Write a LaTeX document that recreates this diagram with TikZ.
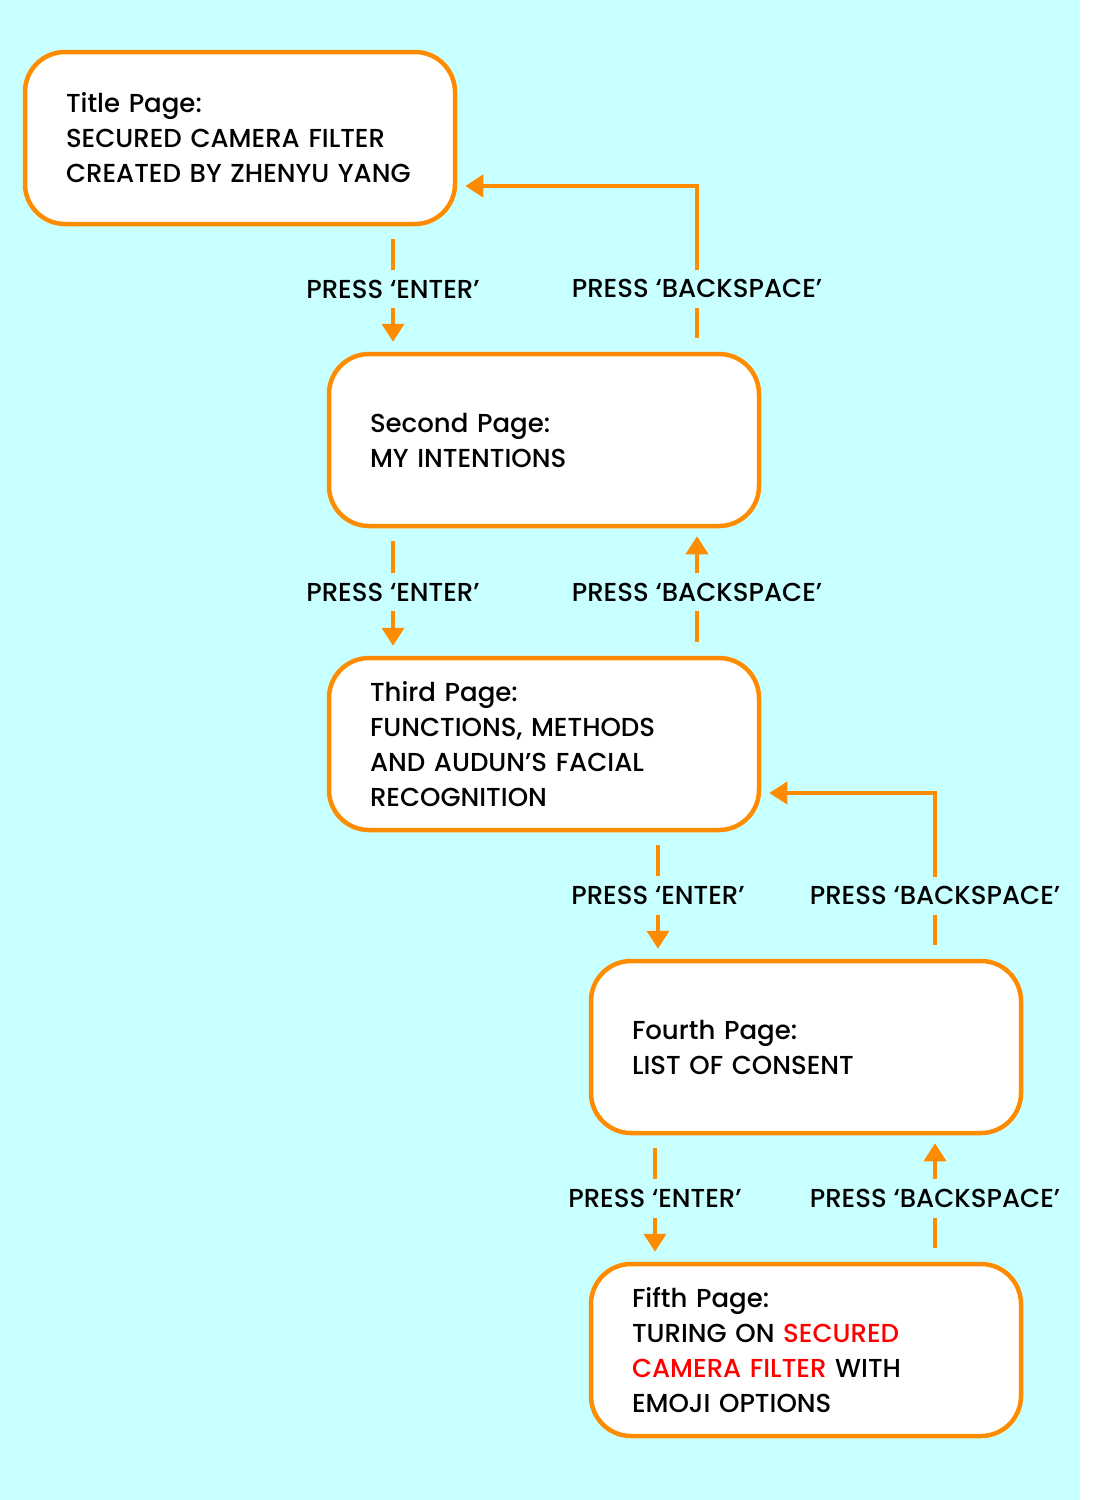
\documentclass[tikz,border=0pt]{standalone}
\usepackage{fontspec}
\setmainfont{Poppins}[UprightFont=* Medium]
\usetikzlibrary{arrows.meta}
\definecolor{bgcyan}{RGB}{200,255,255}
\definecolor{flowor}{RGB}{255,140,0}
\begin{document}
\begin{tikzpicture}[
    x=1pt, y=-1pt,
    page/.style={rectangle, draw=flowor, line width=4.5pt, fill=white, rounded corners=40pt,
        minimum height=172pt, text width=348pt, inner xsep=41pt, align=left,
        font=\fontsize{26}{35}\selectfont},
    enter/.style={-{Triangle[width=22pt,length=18pt]}, flowor, line width=4pt, shorten <=13pt, shorten >=10pt},
    back/.style={-{Triangle[width=22pt,length=18pt]}, flowor, line width=4pt, shorten <=14pt, shorten >=8pt},
    presslab/.style={fill=bgcyan, text=black, inner xsep=4pt, inner ysep=10pt, font=\fontsize{26}{30}\selectfont}
]
\useasboundingbox (0,0) rectangle (1110,1500);
\fill[bgcyan] (0,0) rectangle (1080,1500);

% ===== PAGES =====
\node[page] (title) at (240,138) {Title Page:\\SECURED CAMERA FILTER\\CREATED BY ZHENYU YANG};
\node[page] (second) at (544,440) {Second Page:\\MY INTENTIONS};
\node[page] (third) at (544,744) {Third Page:\\FUNCTIONS, METHODS\\AND AUDUN’S FACIAL\\RECOGNITION};
\node[page] (fourth) at (806,1047) {Fourth Page:\\LIST OF CONSENT};
\node[page] (fifth) at (806,1350) {Fifth Page:\\TURING ON \textcolor{red}{SECURED}\\\textcolor{red}{CAMERA FILTER} WITH\\EMOJI OPTIONS};

% x of the vertical connectors, y of the return lines
\coordinate (e1) at (393,0);
\coordinate (e2) at (658,0);
\coordinate (e3) at (655,0);
\coordinate (b1) at (697,0);
\coordinate (b2) at (935,0);
\coordinate (r1) at (0,186);
\coordinate (r2) at (0,793);

% ===== FORWARD: PRESS 'ENTER' =====
\draw[enter] (title.south -| e1) -- node[presslab] {PRESS ‘ENTER’} (second.north -| e1);
\draw[enter] (second.south -| e1) -- node[presslab] {PRESS ‘ENTER’} (third.north -| e1);
\draw[enter] (third.south -| e2) -- node[presslab] {PRESS ‘ENTER’} (fourth.north -| e2);
\draw[enter] (fourth.south -| e3) -- node[presslab] {PRESS ‘ENTER’} (fifth.north -| e3);

% ===== BACKWARD: PRESS 'BACKSPACE' =====
\draw[back] (second.north -| b1) |- node[presslab, pos=0.19] {PRESS ‘BACKSPACE’} (title.east |- r1);
\draw[back] (third.north -| b1) -- node[presslab] {PRESS ‘BACKSPACE’} (second.south -| b1);
\draw[back] (fourth.north -| b2) |- node[presslab, pos=0.19] {PRESS ‘BACKSPACE’} (third.east |- r2);
\draw[back] (fifth.north -| b2) -- node[presslab] {PRESS ‘BACKSPACE’} (fourth.south -| b2);

\end{tikzpicture}
\end{document}
